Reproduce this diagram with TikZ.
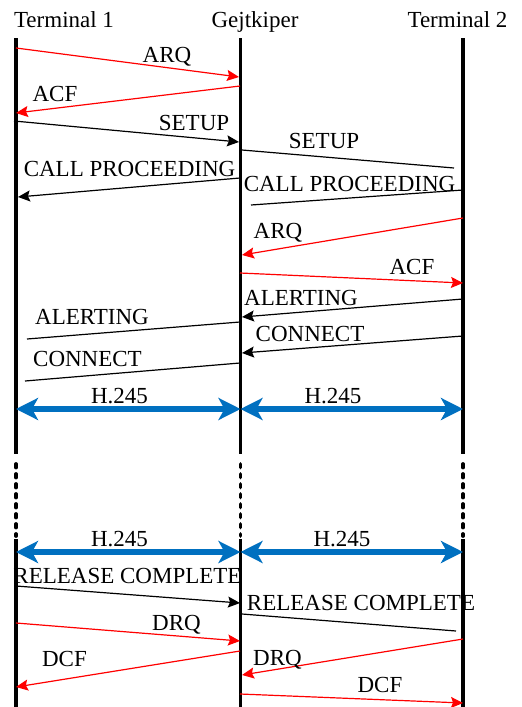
\documentclass[tikz,border=0pt]{standalone}
\usepackage{fontspec}
\setmainfont{Liberation Serif}
\newfontfamily\diagfont{Liberation Serif}
\usetikzlibrary{arrows.meta}
\definecolor{sigred}{RGB}{255,0,0}
\definecolor{hblue}{RGB}{0,112,192}
\begin{document}
\begin{tikzpicture}[x=1pt,y=-1pt,
  lifeline/.style={line width=3.8pt, black},
  gapline/.style={line width=3.8pt, black, line cap=round, dash pattern=on 3.5pt off 6.5pt},
  msg/.style={line width=1.2pt},
  tip/.style={-{Stealth[length=12pt,width=11pt,inset=2pt]}},
  redmsg/.style={msg, sigred},
  blkmsg/.style={msg, black},
  hmsg/.style={line width=5.5pt, hblue,
    {Stealth[length=22pt,width=22pt,inset=6pt]}-{Stealth[length=22pt,width=22pt,inset=6pt]}},
  lbl/.style={anchor=base, inner sep=0pt, font=\diagfont\fontsize{23}{27}\selectfont},
]
\useasboundingbox[fill=white] (0,0) rectangle (522,707);

% headers
\node[lbl] (h1) at (64,27) {Terminal 1};
\node[lbl] (h2) at (255,27) {Gejtkiper};
\node[lbl] (h3) at (457.5,27) {Terminal 2};

% lifelines: solid, interrupted by a dotted gap, solid again
\foreach \n/\x in {A/16, B/240.5, C/463} {
  \coordinate (\n top) at (\x,38);
  \coordinate (\n brk) at (\x,454);
  \coordinate (\n da) at (\x,464);
  \coordinate (\n db) at (\x,536);
  \coordinate (\n res) at (\x,539);
  \coordinate (\n bot) at (\x,707);
  \draw[lifeline] (\n top) -- (\n brk);
  \draw[gapline] (\n da) -- (\n db);
  \draw[lifeline] (\n res) -- (\n bot);
}

% message end points
\coordinate (m1a) at (16,48);    \coordinate (m1b) at (239,77);
\coordinate (m2a) at (240,86);   \coordinate (m2b) at (16,113);
\coordinate (m3a) at (14,121);   \coordinate (m3b) at (239,142);
\coordinate (m4a) at (240,178);  \coordinate (m4b) at (18,197);
\coordinate (m5a) at (242,150);  \coordinate (m5b) at (454,168);
\coordinate (m6a) at (463,190);  \coordinate (m6b) at (251,205);
\coordinate (m7a) at (463,218);  \coordinate (m7b) at (242,255);
\coordinate (m8a) at (240,273);  \coordinate (m8b) at (463,283);
\coordinate (m9a) at (463,299);  \coordinate (m9b) at (242,317);
\coordinate (m10a) at (240,322); \coordinate (m10b) at (27,339);
\coordinate (m11a) at (463,336); \coordinate (m11b) at (242,353);
\coordinate (m12a) at (240,363); \coordinate (m12b) at (25,381);
\coordinate (h1a) at (16,409);   \coordinate (h1b) at (240.5,409); \coordinate (h1c) at (463,409);
\coordinate (h2a) at (16,552);   \coordinate (h2b) at (240.5,552); \coordinate (h2c) at (463,552);
\coordinate (m15a) at (16,586);  \coordinate (m15b) at (240,603);
\coordinate (m16a) at (242,614); \coordinate (m16b) at (456,631);
\coordinate (m17a) at (16,623);  \coordinate (m17b) at (240,641);
\coordinate (m18a) at (240,651); \coordinate (m18b) at (16,687);
\coordinate (m19a) at (463,639); \coordinate (m19b) at (242,675);
\coordinate (m20a) at (240,694); \coordinate (m20b) at (463,703);

% connection set-up
\draw[redmsg, tip] (m1a) -- (m1b);
\node[lbl] (l1) at (167,62) {ARQ};
\draw[redmsg, tip] (m2a) -- (m2b);
\node[lbl] (l2) at (55,101.5) {ACF};
\draw[blkmsg, tip] (m3a) -- (m3b);
\node[lbl] (l3) at (194,130) {SETUP};
\draw[blkmsg, tip] (m4a) -- (m4b);
\node[lbl] (l4) at (129.5,176.7) {CALL PROCEEDING};
\draw[blkmsg] (m5a) -- (m5b);
\node[lbl] (l5) at (324,148) {SETUP};
\draw[blkmsg] (m6a) -- (m6b);
\node[lbl] (l6) at (349.5,191.7) {CALL PROCEEDING};
\draw[redmsg, tip] (m7a) -- (m7b);
\node[lbl] (l7) at (278,238.3) {ARQ};
\draw[redmsg, tip] (m8a) -- (m8b);
\node[lbl] (l8) at (412,274) {ACF};
\draw[blkmsg, tip] (m9a) -- (m9b);
\node[lbl] (l9) at (301,305) {ALERTING};
\draw[blkmsg] (m10a) -- (m10b);
\node[lbl] (l10) at (92,324) {ALERTING};
\draw[blkmsg, tip] (m11a) -- (m11b);
\node[lbl] (l11) at (310,341.7) {CONNECT};
\draw[blkmsg] (m12a) -- (m12b);
\node[lbl] (l12) at (87.5,366) {CONNECT};

% H.245 channels
\draw[hmsg] (h1a) -- (h1b);
\draw[hmsg] (h1b) -- (h1c);
\node[lbl] (l13) at (119.5,403.3) {H.245};
\node[lbl] (l14) at (333,403.3) {H.245};
\draw[hmsg] (h2a) -- (h2b);
\draw[hmsg] (h2b) -- (h2c);
\node[lbl] (l15) at (119.5,546.7) {H.245};
\node[lbl] (l16) at (342,546.7) {H.245};

% release
\draw[blkmsg, tip] (m15a) -- (m15b);
\node[lbl] (l17) at (127.5,583.3) {RELEASE COMPLETE};
\draw[blkmsg] (m16a) -- (m16b);
\node[lbl] (l18) at (361,610.7) {RELEASE COMPLETE};
\draw[redmsg, tip] (m17a) -- (m17b);
\node[lbl] (l19) at (176.5,630) {DRQ};
\draw[redmsg, tip] (m18a) -- (m18b);
\node[lbl] (l20) at (64.5,666.7) {DCF};
\draw[redmsg, tip] (m19a) -- (m19b);
\node[lbl] (l21) at (277.5,665) {DRQ};
\draw[redmsg, tip] (m20a) -- (m20b);
\node[lbl] (l22) at (380,692.7) {DCF};
\end{tikzpicture}
\end{document}
